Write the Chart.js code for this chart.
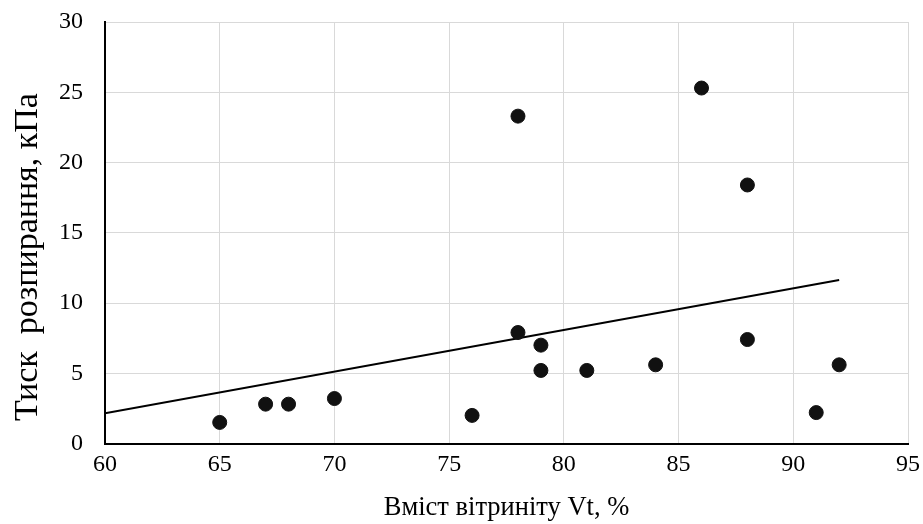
<!DOCTYPE html>
<html>
<head>
<meta charset="utf-8">
<script src="https://cdn.jsdelivr.net/npm/chart.js@4/dist/chart.umd.min.js"></script>
<style>
  html, body { margin: 0; padding: 0; background: #fff; }
  #wrap { width: 923px; height: 524px; }
</style>
</head>
<body>
<div id="wrap"><canvas id="scatterChart" width="923" height="524"></canvas></div>
<script>
// vitrinite content (%) and swelling pressure (kPa)
var vitrinite = [65, 67, 68, 70, 76, 78, 78, 79, 79, 81, 84, 86, 88, 88, 91, 92];
var pressure = [1.5, 2.8, 2.8, 3.2, 2.0, 23.3, 7.9, 7.0, 5.2, 5.2, 5.6, 25.3, 18.4, 7.4, 2.2, 5.6];
// trend line ends
var trendX = [60, 92];
var trendY = [2.15, 11.63];

var xTitle = "Вміст вітриніту Vt, %";
var yTitle = "Тиск  розпирання, кПа";

function toPoints(xs, ys){
    return xs.map(function(x, i){
        return {x: x, y: ys[i]};
    });
}

var fontFamily = "'Liberation Serif', 'Times New Roman', serif";

// y title is centred on the whole canvas height in the original, not on the plot area
const yTitlePlugin = {
    id: 'yTitle',
    afterDraw: function(chart){
        const ctx = chart.ctx;
        ctx.save();
        ctx.translate(37, 257);
        ctx.rotate(-Math.PI / 2);
        ctx.font = "34px " + fontFamily;
        ctx.fillStyle = "#000";
        ctx.textAlign = "center";
        ctx.textBaseline = "alphabetic";
        ctx.fillText(yTitle, 0, 0);
        ctx.restore();
    }
};

const CHART = document.getElementById('scatterChart');
let scatterChart = new Chart(CHART, {
    type: 'scatter',
    data: {
        datasets: [
            {
                label: "points",
                data: toPoints(vitrinite, pressure),
                backgroundColor: "#111111",
                borderColor: "#111111",
                pointRadius: 7,
                pointHoverRadius: 7
            },
            {
                type: 'line',
                label: "trend",
                data: toPoints(trendX, trendY),
                borderColor: "#000000",
                borderWidth: 2,
                pointRadius: 0,
                fill: false
            }
        ]
    },
    options: {
        responsive: false,
        animation: false,
        layout: { padding: { top: 22, right: 15, left: 9, bottom: 0 } },
        plugins: {
            legend: { display: false },
            tooltip: { enabled: false }
        },
        scales: {
            x: {
                type: 'linear',
                min: 60,
                max: 95,
                afterFit: function(scale){
                    scale.height = 80.5;
                    scale.paddingLeft = 0;
                    scale.paddingRight = 0;
                },
                ticks: { stepSize: 5, color: "#000", padding: 7, font: { family: fontFamily, size: 24 } },
                grid: { color: "#d9d9d9", lineWidth: 1, drawTicks: false },
                border: { color: "#000", width: 2 },
                title: { display: true, text: xTitle, color: "#000", font: { family: fontFamily, size: 26.5 }, padding: { top: 12, bottom: 0 } }
            },
            y: {
                min: 0,
                max: 30,
                afterFit: function(scale){
                    scale.width = 96;
                    scale.paddingTop = 0;
                    scale.paddingBottom = 0;
                },
                ticks: { stepSize: 5, color: "#000", padding: 22, font: { family: fontFamily, size: 24 } },
                grid: { color: "#d9d9d9", lineWidth: 1, drawTicks: false },
                border: { color: "#000", width: 2 },
                title: { display: false, text: yTitle }
            }
        }
    },
    plugins: [yTitlePlugin]
});
</script>
</body>
</html>
